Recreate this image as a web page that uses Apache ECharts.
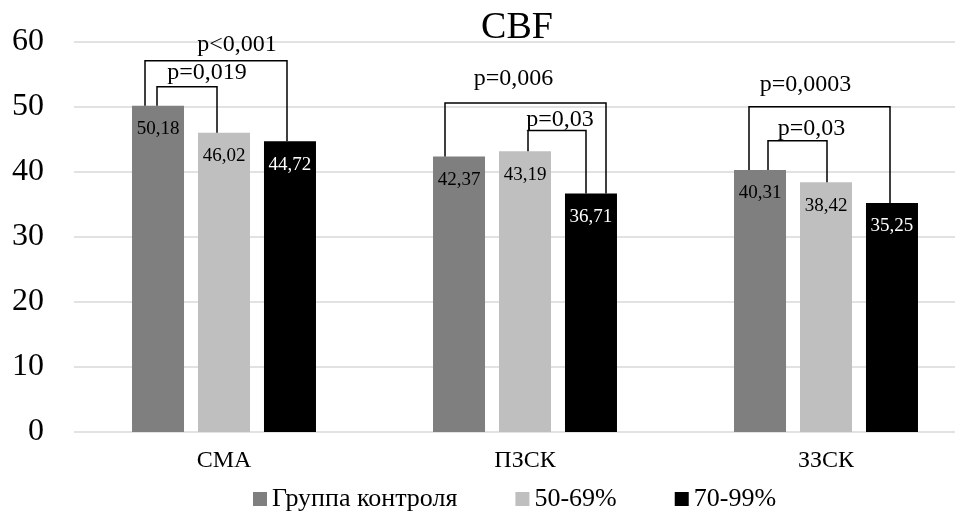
<!DOCTYPE html>
<html>
<head>
<meta charset="utf-8">
<script src="https://cdn.jsdelivr.net/npm/echarts@6/dist/echarts.min.js"></script>
<style>html,body{margin:0;padding:0;background:#fff}#c{width:966px;height:511px}</style>
</head>
<body>
<div id="c"></div>
<script>
// ---- data ----
const titleText = 'CBF';
const categories = ['СМА', 'ПЗСК', 'ЗЗСК'];
const seriesNames = ['Группа контроля', '50-69%', '70-99%'];
const controlValues = [50.18, 42.37, 40.31];
const moderateValues = [46.02, 43.19, 38.42];
const severeValues = [44.72, 36.71, 35.25];
const yMin = 0, yMax = 60, yInterval = 10;
// significance brackets: category, from series, to series, bracket level (axis value), label
const bracketCats = [0, 0, 1, 1, 2, 2];
const bracketFrom = [0, 0, 0, 1, 0, 0];
const bracketTo = [1, 2, 2, 2, 2, 1];
const bracketLevel = [53.1, 57.1, 50.6, 46.4, 50.05, 44.8];
const bracketLabels = ['p=0,019', 'p<0,001', 'p=0,006', 'p=0,03', 'p=0,0003', 'p=0,03'];

// ---- styling / layout (kept separate from data) ----
const FONT = '"Liberation Serif", "DejaVu Serif", serif';
const colors = ['#7f7f7f', '#bfbfbf', '#000000'];
const labelColors = ['#000', '#000', '#fff'];
const BAR_W = 52, GAP_PX = 14;
const legNudgeFrom = [-1, -13, -14, 3, -11, 8];
const legNudgeTo = [-7, -3, 15, -5, -2, 1];
const labelDx = [20, 21, -12, 3, -14, 14];
const labelDy = [14, 16, 24, 11, 22, 12];

const allValues = [controlValues, moderateValues, severeValues];
const fmt = v => v.toFixed(2).replace('.', ',');

const chart = echarts.init(document.getElementById('c'), null, {renderer: 'canvas'});

const barSeries = seriesNames.map((name, i) => ({
  name: name,
  type: 'bar',
  xAxisIndex: 1,
  yAxisIndex: 1,
  data: allValues[i],
  barWidth: BAR_W,
  barGap: (GAP_PX / BAR_W * 100).toFixed(1) + '%',
  itemStyle: {color: colors[i]},
  label: {
    show: true,
    position: 'insideTop',
    distance: 14,
    color: labelColors[i],
    fontFamily: FONT,
    fontSize: 19,
    formatter: p => fmt(p.value)
  },
  silent: true
}));

const bracketSeries = {
  type: 'custom',
  xAxisIndex: 1,
  yAxisIndex: 1,
  clip: false,
  silent: true,
  z: 10,
  data: bracketCats.map((c, i) => [c, bracketLevel[i]]),
  renderItem: function (params, api) {
    const i = params.dataIndex;
    const c = api.value(0);
    const step = BAR_W + GAP_PX;
    const center = api.coord([c, 0])[0];
    const f = bracketFrom[i], t = bracketTo[i];
    const x1 = center + (f - 1) * step + legNudgeFrom[i];
    const x2 = center + (t - 1) * step + legNudgeTo[i];
    const yTop = api.coord([c, api.value(1)])[1];
    const yb1 = api.coord([c, allValues[f][c]])[1];
    const yb2 = api.coord([c, allValues[t][c]])[1];
    return {
      type: 'group',
      children: [
        {
          type: 'polyline',
          shape: {points: [[x1, yb1], [x1, yTop], [x2, yTop], [x2, yb2]]},
          style: {stroke: '#000', lineWidth: 1.5, fill: null}
        },
        {
          type: 'text',
          style: {
            text: bracketLabels[i],
            x: (x1 + x2) / 2 + labelDx[i],
            y: yTop - labelDy[i],
            align: 'center',
            verticalAlign: 'middle',
            font: '24px ' + FONT,
            fill: '#000'
          }
        }
      ]
    };
  }
};

chart.setOption({
  animation: false,
  backgroundColor: '#fff',
  title: {
    text: titleText,
    left: 512,
    top: 4,
    textAlign: 'center',
    textStyle: {fontFamily: FONT, fontSize: 38, fontWeight: 'normal', color: '#000'}
  },
  legend: {
    data: seriesNames,
    left: 248,
    top: 481,
    itemWidth: 14,
    itemHeight: 14,
    itemGap: 58,
    icon: 'rect',
    textStyle: {fontFamily: FONT, fontSize: 26, color: '#000'}
  },
  grid: [
    {left: 74, right: 11, top: 42, bottom: 79},
    {left: 224, right: 140, top: 42, bottom: 79}
  ],
  xAxis: [
    {type: 'category', gridIndex: 0, data: categories, show: false},
    {
      type: 'category', gridIndex: 1, data: categories, boundaryGap: false,
      axisLine: {show: false}, axisTick: {show: false},
      axisLabel: {fontFamily: FONT, fontSize: 24, color: '#000', margin: 17}
    }
  ],
  yAxis: [
    {
      type: 'value', gridIndex: 0, min: yMin, max: yMax, interval: yInterval,
      axisLine: {show: false}, axisTick: {show: false},
      axisLabel: {fontFamily: FONT, fontSize: 32, color: '#000', margin: 30},
      splitLine: {show: true, lineStyle: {color: '#d9d9d9', width: 1.5}}
    },
    {
      type: 'value', gridIndex: 1, min: yMin, max: yMax, interval: yInterval,
      show: false, splitLine: {show: false}
    }
  ],
  series: barSeries.concat([bracketSeries])
});
</script>
</body>
</html>
